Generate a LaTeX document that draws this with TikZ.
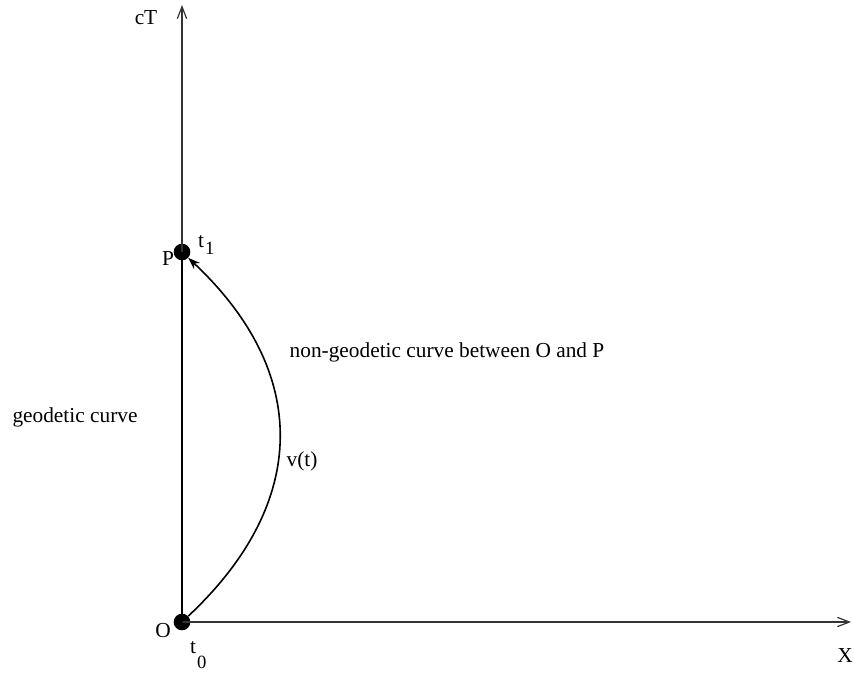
\documentclass[tikz,border=0pt]{standalone}
\usepackage{fontspec}
\setmainfont{Liberation Serif}
\usetikzlibrary{positioning,arrows.meta}

\begin{document}
\begin{tikzpicture}[x=0.75pt,y=-0.75pt]
\tikzstyle{event}=[circle, fill=black, inner sep=0pt, minimum size=12.5pt]
\tikzstyle{axis}=[-{Straight Barb[length=9pt,width=7pt]}, line width=0.9pt, black!80]
\tikzstyle{geodetic}=[line width=2.2pt]
\tikzstyle{worldline}=[-{Stealth[length=9pt,width=6.5pt]}, line width=1.2pt]
\tikzstyle{lbl}=[font=\fontsize{16}{19}\selectfont, inner sep=0pt]
\tikzstyle{sub}=[font=\fontsize{14}{16}\selectfont, inner sep=0pt]
\useasboundingbox (0,0) rectangle (854,679);
  \node[event] (O) at (182,622) { };
  \node[event] (P) at (182,252) { };
  \coordinate (ctip) at (182,5);
  \coordinate (xtip) at (851,622);
  \draw[axis] (O.center) -- (ctip);
  \draw[axis] (O.center) -- (xtip);
  \draw[geodetic] (O.center) -- (P.center);
  \draw[worldline] (O) .. controls (310,502) and (310,372) .. (P);
  % labels
  \node[lbl] (cT) at (146,18) {cT};
  \node[lbl] (X) at (845,656) {X};
  \node[lbl] (Olab) at (163,631) {O};
  \node[lbl] (Plab) at (168,259) {P};
  \node[lbl] (t1) at (201,242) {t};
  \node[sub] (one) [below right=-5pt and 0.5pt of t1] {1};
  \node[lbl] (t0) at (193,648) {t};
  \node[sub] (zero) [below right=1pt and 0.5pt of t0] {0};
  \node[lbl] (geo) at (75,417) {geodetic curve};
  \node[lbl] (nongeo) at (447,352) {non-geodetic curve between O and P};
  \node[lbl] (vt) at (302,461) {v(t)};
\end{tikzpicture}
\end{document}
